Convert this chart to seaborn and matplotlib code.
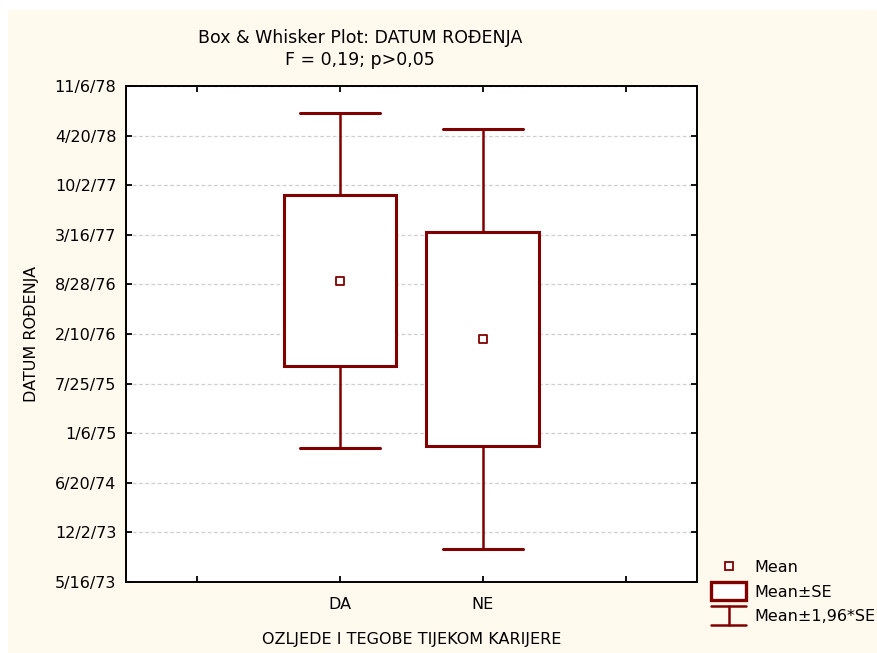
import numpy as np
import pandas as pd
import matplotlib
matplotlib.use('Agg')
import matplotlib.pyplot as plt
import matplotlib.dates as mdates
from matplotlib.lines import Line2D
from matplotlib.patches import Rectangle, Patch
from matplotlib.legend_handler import HandlerBase
from matplotlib.ticker import FuncFormatter
import seaborn as sns

# Group means (dates) and standard errors (days)
categories = ['DA', 'NE']
mean_dates = ['1976-09-12', '1976-01-21']
se_days = [345, 432]
ci_factor = 1.96

# Y axis: starts 5/16/73, one tick every 200 days
axis_start = '1973-05-16'
axis_step_days = 200
axis_steps = 10

title_lines = ['Box & Whisker Plot: DATUM ROĐENJA', 'F = 0,19; p>0,05']
x_title = 'OZLJEDE I TEGOBE TIJEKOM KARIJERE'
y_title = 'DATUM ROĐENJA'
legend_labels = ['Mean', 'Mean±SE', 'Mean±1,96*SE']

dark_red = '#800000'
cream = '#FFF9EE'

sns.set_style('white')
plt.rcParams['font.family'] = ['DejaVu Sans']
plt.rcParams['font.size'] = 11
plt.rcParams['text.color'] = 'black'
plt.rcParams['axes.labelcolor'] = 'black'

df = pd.DataFrame({'group': categories,
                   'mean': pd.to_datetime(mean_dates),
                   'se': se_days})
df['pos'] = np.arange(1, len(df) + 1)
df['y'] = mdates.date2num(df['mean'])

fig = plt.figure(figsize=(8.78, 6.53), dpi=100, facecolor='white')
fig.add_artist(Rectangle((8 / 878, 0), 1, 643 / 653, transform=fig.transFigure,
                         facecolor=cream, edgecolor='none', zorder=-10))
ax = fig.add_axes([0.1435, 0.1087, 0.6503, 0.7596])
ax.set_facecolor('white')

# Boxes = mean +/- SE, whiskers = mean +/- 1.96*SE
stats = []
for _, r in df.iterrows():
    stats.append(dict(med=r['y'], q1=r['y'] - r['se'], q3=r['y'] + r['se'],
                      whislo=r['y'] - ci_factor * r['se'],
                      whishi=r['y'] + ci_factor * r['se'], label=r['group']))
ax.bxp(stats, positions=df['pos'], widths=0.79, capwidths=0.56,
       showfliers=False, patch_artist=True, manage_ticks=False,
       boxprops=dict(facecolor='white', edgecolor=dark_red, linewidth=2.2),
       whiskerprops=dict(color=dark_red, linewidth=1.8),
       capprops=dict(color=dark_red, linewidth=2.2),
       medianprops=dict(linewidth=0))

sns.scatterplot(data=df, x='pos', y='y', marker='s', s=40, facecolor='white',
                edgecolor=dark_red, linewidth=1.3, ax=ax, zorder=5)

# axes
y0 = mdates.date2num(pd.Timestamp(axis_start))
ax.set_ylim(y0, y0 + axis_step_days * axis_steps)
ax.set_yticks(y0 + axis_step_days * np.arange(axis_steps + 1))


def fmt_date(v, pos):
    d = mdates.num2date(round(v))
    return f'{d.month}/{d.day}/{d.strftime("%y")}'


ax.yaxis.set_major_formatter(FuncFormatter(fmt_date))
ax.set_xlim(-0.5, len(categories) + 1.5)
ax.set_xticks(np.arange(len(categories) + 2))
ax.set_xticklabels([''] + categories + [''])
ax.tick_params(direction='in', length=4, width=1.3, top=True, right=True,
               left=True, bottom=True, labelsize=11.5, colors='black')
ax.tick_params(axis='y', pad=7)
ax.tick_params(axis='x', pad=11)
ax.yaxis.grid(True, linestyle=(0, (3, 2)), color='#cfcfcf', linewidth=0.9)
ax.xaxis.grid(False)
ax.set_axisbelow(True)
for sp in ax.spines.values():
    sp.set_color('black')
    sp.set_linewidth(1.4)

ax.set_xlabel(x_title, fontsize=11.5, labelpad=14)
ax.set_ylabel('')
fig.text(32 / 878, 0.5 * (0.1087 * 2 + 0.7596), y_title, rotation=90,
         ha='center', va='center', fontsize=11.5)
fig.text(360 / 878, 1 - 38 / 653, title_lines[0], ha='center', va='center', fontsize=12.5)
fig.text(360 / 878, 1 - 60 / 653, title_lines[1], ha='center', va='center', fontsize=12.5)


# legend with hand-made handles
class BoxHandler(HandlerBase):
    def create_artists(self, legend, orig_handle, xdescent, ydescent, width,
                       height, fontsize, trans):
        h = height * 1.65
        yc = -ydescent + height / 2
        return [Rectangle((-xdescent, yc - h / 2), width, h, facecolor='white',
                          edgecolor=dark_red, linewidth=2.4, transform=trans)]


class WhiskerHandler(HandlerBase):
    def create_artists(self, legend, orig_handle, xdescent, ydescent, width,
                       height, fontsize, trans):
        h = height * 1.7
        yc = -ydescent + height / 2
        x0, x1 = -xdescent, -xdescent + width
        xm = (x0 + x1) / 2
        kw = dict(color=dark_red, linewidth=1.8, transform=trans)
        return [Line2D([x0, x1], [yc + h / 2] * 2, **kw),
                Line2D([x0, x1], [yc - h / 2] * 2, **kw),
                Line2D([xm, xm], [yc - h / 2, yc + h / 2], **kw)]


mean_h = Line2D([], [], linestyle='none', marker='s', markersize=6,
                markerfacecolor='white', markeredgecolor=dark_red, markeredgewidth=1.3)
box_h = Patch()
whisk_h = Patch()
fig.legend([mean_h, box_h, whisk_h], legend_labels, loc='upper left',
           bbox_to_anchor=(711 / 878, 1 - 560 / 653), frameon=False,
           handlelength=2.2, handletextpad=0.5, labelspacing=0.6,
           borderpad=0, borderaxespad=0, fontsize=11.5,
           handler_map={box_h: BoxHandler(), whisk_h: WhiskerHandler()})

fig.savefig('out.png', dpi=100)
